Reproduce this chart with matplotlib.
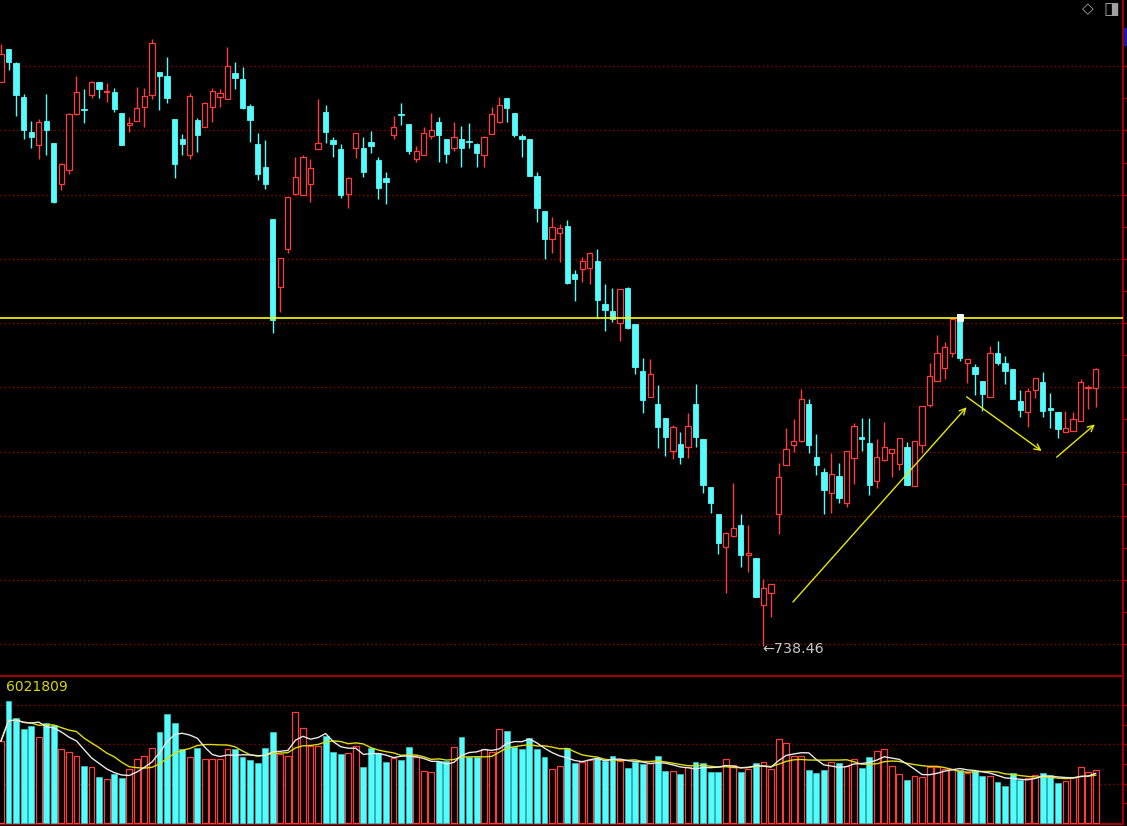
import numpy as np
import pandas as pd
import matplotlib
matplotlib.use("Agg")
import matplotlib.pyplot as plt
from matplotlib.patches import Rectangle
from matplotlib.lines import Line2D

# ---------------- data (index -1 .. 144, one entry per trading day) ----------------
day_index = list(range(-1, 145))

open_ = [879.58, 887.68, 884.33, 875.83, 867.0, 863.75, 869.83, 864.18, 854.08, 857.5,
         871.5, 872.75, 876.25, 879.5, 877.08, 877.08, 871.68, 868.75, 869.68, 873.33,
         876.25, 882.08, 881.08, 870.18, 865.18, 861.25, 869.93, 868.33, 873.18, 875.83,
         875.33, 881.68, 880.18, 873.58, 863.93, 858.33, 845.18, 828.18, 837.75, 851.58,
         851.25, 854.08, 862.83, 872.0, 865.08, 862.68, 851.5, 863.08, 862.93, 864.58,
         859.93, 855.43, 866.25, 871.5, 868.93, 860.25, 861.18, 866.0, 869.5, 865.18,
         863.0, 865.18, 864.83, 863.93, 861.25, 866.5, 869.58, 875.43, 871.75, 866.08,
         865.18, 856.08, 847.33, 840.33, 841.83, 843.58, 831.43, 832.75, 833.08, 834.83,
         823.93, 822.33, 819.33, 827.93, 818.93, 807.33, 800.68, 799.0, 795.43, 787.33,
         788.93, 788.33, 799.0, 790.18, 778.33, 771.43, 763.18, 766.0, 768.68, 761.25,
         760.43, 748.75, 751.83, 771.5, 783.75, 788.75, 789.83, 798.93, 785.75, 782.0,
         776.83, 781.08, 774.33, 785.43, 790.83, 789.18, 779.75, 785.0, 786.68, 784.0,
         788.25, 778.5, 788.75, 798.75, 804.75, 808.08, 811.68, 821.43, 809.18, 808.33,
         804.83, 800.83, 811.83, 809.18, 807.68, 799.83, 796.93, 802.5, 804.58, 797.93,
         797.08, 792.08, 792.25, 794.75, 802.93, 802.93]

high = [889.0, 887.68, 884.58, 876.43, 869.83, 870.18, 876.43, 864.18, 859.33, 871.83,
        881.08, 877.68, 879.83, 879.5, 879.18, 877.93, 871.68, 870.83, 878.33, 877.93,
        890.18, 882.08, 885.83, 870.18, 866.43, 876.68, 870.43, 874.58, 877.93, 877.68,
        888.33, 884.58, 883.33, 874.0, 866.83, 865.0, 845.18, 835.43, 850.75, 860.83,
        861.18, 860.18, 875.25, 873.68, 865.83, 863.93, 855.83, 866.68, 865.83, 867.33,
        860.83, 857.08, 871.08, 874.25, 868.93, 863.58, 868.33, 871.83, 870.83, 865.18,
        869.58, 868.58, 869.18, 864.18, 866.0, 873.33, 875.83, 875.43, 871.75, 866.43,
        865.18, 857.08, 847.33, 845.83, 843.93, 845.0, 832.5, 835.83, 837.08, 837.68,
        829.0, 827.93, 827.68, 828.33, 818.93, 810.43, 810.18, 803.75, 795.43, 793.75,
        792.08, 796.83, 804.0, 790.18, 778.33, 771.43, 766.93, 779.18, 771.43, 768.68,
        760.43, 755.18, 753.93, 784.18, 792.93, 795.18, 802.68, 800.18, 791.43, 782.93,
        786.68, 784.18, 787.33, 794.33, 795.5, 795.5, 790.18, 794.58, 787.83, 790.43,
        789.58, 789.83, 798.58, 809.33, 816.25, 814.58, 820.25, 821.43, 810.18, 808.93,
        804.83, 813.58, 814.83, 811.0, 807.68, 802.5, 802.93, 805.43, 807.08, 801.83,
        797.08, 797.25, 796.93, 805.25, 803.75, 807.93]

low = [879.5, 882.5, 871.08, 865.25, 863.08, 860.25, 861.25, 849.33, 852.5, 856.5,
       871.18, 869.33, 875.58, 875.58, 874.58, 872.08, 863.7, 867.08, 869.68, 868.33,
       875.25, 872.5, 874.33, 855.58, 861.25, 860.25, 862.08, 868.33, 869.58, 873.33,
       875.33, 877.75, 872.68, 864.58, 855.0, 852.68, 816.75, 822.08, 836.83, 851.25,
       851.25, 849.58, 862.83, 864.33, 860.83, 850.58, 848.08, 860.58, 855.83, 861.83,
       850.25, 848.93, 865.25, 868.68, 861.5, 859.58, 861.18, 865.18, 859.58, 859.33,
       862.33, 858.33, 862.93, 858.33, 858.33, 866.5, 869.33, 869.58, 865.83, 860.83,
       856.08, 844.58, 835.25, 836.83, 834.58, 829.0, 824.83, 829.58, 829.0, 820.43,
       817.33, 819.58, 814.83, 817.68, 806.43, 796.83, 800.68, 788.08, 786.08, 785.25,
       784.0, 785.58, 788.33, 776.83, 771.83, 761.5, 751.83, 765.83, 758.33, 757.08,
       750.83, 738.46, 745.68, 766.5, 783.75, 787.08, 789.58, 786.83, 781.25, 771.5,
       771.83, 774.18, 773.33, 779.0, 787.33, 776.25, 778.08, 784.75, 780.68, 782.38,
       778.75, 778.5, 786.83, 798.18, 804.75, 805.25, 810.83, 809.83, 804.33, 801.25,
       797.25, 800.83, 808.75, 804.0, 800.25, 795.83, 793.33, 800.58, 795.83, 793.08,
       790.58, 791.93, 792.25, 794.75, 797.75, 798.18]

close = [886.5, 884.58, 876.25, 867.5, 865.83, 869.5, 867.5, 849.58, 858.93, 871.43,
         877.0, 872.43, 879.5, 877.75, 877.33, 872.75, 863.75, 869.18, 872.93, 876.0,
         889.18, 881.0, 875.58, 859.0, 864.0, 876.08, 866.18, 874.18, 877.33, 876.68,
         883.58, 880.58, 872.93, 870.0, 856.5, 854.0, 820.0, 835.43, 850.75, 855.75,
         860.75, 857.93, 864.18, 867.08, 864.08, 851.18, 855.43, 866.68, 857.08, 863.43,
         853.08, 854.43, 868.18, 871.18, 862.33, 862.33, 866.68, 867.5, 866.25, 861.5,
         865.68, 863.08, 864.58, 861.83, 865.68, 871.43, 873.83, 873.08, 866.18, 865.25,
         856.08, 848.08, 840.25, 843.33, 843.0, 829.33, 830.25, 834.75, 836.68, 825.0,
         822.5, 820.33, 827.68, 818.08, 808.33, 800.0, 806.43, 793.33, 790.83, 793.25,
         785.83, 793.58, 790.83, 778.75, 774.33, 764.33, 766.68, 767.93, 761.25, 761.63,
         750.83, 752.93, 753.93, 780.75, 787.68, 789.83, 800.18, 788.75, 783.75, 777.5,
         781.43, 775.58, 787.33, 793.58, 790.33, 778.75, 785.68, 788.18, 787.83, 790.43,
         778.75, 789.83, 798.58, 806.08, 811.68, 813.33, 820.25, 810.43, 810.18, 806.5,
         801.5, 811.68, 809.33, 807.25, 800.25, 797.5, 802.33, 805.43, 797.25, 797.5,
         792.75, 792.93, 795.18, 804.43, 803.33, 807.68]

volume_m = [9.35, 13.94, 11.94, 10.68, 11.09, 9.84, 11.43, 11.14, 8.40, 8.13,
            7.67, 6.53, 6.38, 5.28, 4.98, 5.55, 5.16, 6.12, 7.26, 7.67,
            8.52, 10.41, 12.39, 11.43, 8.40, 7.52, 8.58, 7.26, 7.26, 7.26,
            8.40, 8.40, 7.56, 7.18, 6.84, 8.58, 10.41, 7.87, 7.64, 12.69,
            10.80, 8.78, 8.78, 9.95, 8.13, 7.83, 7.95, 8.78, 6.42, 8.55,
            7.95, 6.99, 7.38, 7.18, 8.70, 7.56, 5.96, 5.78, 7.10, 7.10,
            8.63, 9.84, 7.49, 7.49, 8.44, 8.13, 10.68, 10.52, 8.63, 8.40,
            9.66, 8.40, 7.56, 6.12, 6.53, 8.52, 6.87, 6.92, 7.18, 7.38,
            7.10, 7.67, 7.10, 6.30, 6.92, 6.73, 6.81, 7.67, 5.96, 5.96,
            5.55, 6.35, 6.99, 6.81, 5.85, 5.85, 7.26, 6.65, 5.85, 6.12,
            6.81, 6.95, 6.12, 9.54, 9.09, 7.64, 7.67, 6.04, 5.73, 6.04,
            6.99, 6.87, 6.50, 7.26, 6.30, 7.56, 8.24, 8.40, 6.50, 5.55,
            4.90, 5.39, 5.28, 6.42, 6.35, 6.12, 6.12, 6.04, 5.67, 5.96,
            5.39, 5.39, 4.71, 4.25, 5.67, 4.90, 5.10, 5.47, 5.67, 5.47,
            4.53, 4.79, 5.28, 6.35, 5.81, 6.02]

volume_label = "6021809"
resistance_level = 820.38          # yellow horizontal line
highlight_day = 126                # candle with the white marker on its top
marker_bottom = 819.75

# hand drawn yellow arrows: (start_day, start_price, end_day, end_price)
arrow_segments = [
    (103.9, 749.5, 126.9, 798.2),
    (126.9, 800.8, 136.85, 787.25),
    (138.83, 785.7, 143.9, 793.9),
]

price_grid = [739.0, 755.0, 771.1, 787.1, 803.2, 819.3, 835.3, 851.3, 867.4, 883.5]
volume_grid = [4.5, 8.95, 13.4]

# ---------------- styling ----------------
RED = "#ff3c3c"
CYAN = "#54fcfc"
GRID = "#8c0000"
FRAME = "#a00000"
YEL = "#ffff00"

W, H = 1127, 826
fig = plt.figure(figsize=(W / 100, H / 100), dpi=100, facecolor="black")
ax = fig.add_axes([0, (H - 676) / H, 1123 / W, 676 / H], facecolor="black")
axv = fig.add_axes([0, (H - 824) / H, 1123 / W, 148 / H], facecolor="none")

x = np.array(day_index, dtype=float)
o = np.array(open_); h = np.array(high); l = np.array(low); c = np.array(close)
v = np.array(volume_m)
up = c >= o
dn = ~up

xlim = (-1.126, 147.62)

# ---------------- price panel ----------------
ax.vlines(x[dn], l[dn], h[dn], color=CYAN, lw=1.0, zorder=2)
ax.vlines(x[up], l[up], h[up], color=RED, lw=1.0, zorder=2)
ax.bar(x[dn], o[dn] - c[dn], bottom=c[dn], width=0.7, color=CYAN,
       edgecolor=CYAN, lw=0.6, zorder=3)
ax.bar(x[up], c[up] - o[up], bottom=o[up], width=0.7, facecolor="black",
       edgecolor=RED, lw=0.9, zorder=3)

ax.axhline(resistance_level, color=YEL, lw=1.2, zorder=5)
hi = day_index.index(highlight_day)
ax.bar([highlight_day], [h[hi] - marker_bottom], bottom=marker_bottom, width=0.75,
       color="white", edgecolor="white", lw=0.6, zorder=6)

for sx, sy, ex, ey in arrow_segments:
    ax.annotate("", xy=(ex, ey), xytext=(sx, sy),
                arrowprops=dict(arrowstyle="->", color="#e8e800", lw=1.0,
                                mutation_scale=11, shrinkA=0, shrinkB=0),
                zorder=7)

imin = int(np.argmin(l))
ax.annotate(f"\u2190{l[imin]:.2f}", xy=(x[imin], l[imin]), xytext=(-1, -2),
            textcoords="offset points", ha="left", va="center",
            color="#c8c8c8", fontsize=10.3, zorder=8)

ax.set_xlim(*xlim)
ax.set_ylim(731, 900)
ax.set_yticks(price_grid)
ax.set_yticks([(a + b) / 2 for a, b in zip(price_grid[:-1], price_grid[1:])], minor=True)
ax.grid(axis="y", which="major", color=GRID, linestyle=(0, (1, 2)), lw=1.0, zorder=0)
ax.set_xticks([])
ax.tick_params(axis="y", which="both", left=False, right=True, labelleft=False,
               labelright=False, direction="out", length=3, width=1, colors=FRAME)
for s in ("left", "top", "bottom"):
    ax.spines[s].set_visible(False)
ax.spines["right"].set_color(FRAME)
ax.spines["right"].set_linewidth(1.5)

# ---------------- volume panel ----------------
axv.bar(x[dn], v[dn], width=0.78, color=CYAN, edgecolor="#3cc8c8", lw=0.5, zorder=3)
axv.bar(x[up], v[up], width=0.78, facecolor="black", edgecolor=RED, lw=0.9, zorder=3)
vs = pd.Series(v)
ma5 = vs.rolling(5, min_periods=1).mean()
ma10 = vs.rolling(10, min_periods=1).mean()
axv.plot(x, ma5, color="#e8e8e8", lw=1.0, zorder=5)
axv.plot(x, ma10, color="#dede00", lw=1.0, zorder=4)

axv.set_xlim(*xlim)
axv.set_ylim(-0.114, 16.758)
axv.set_yticks(volume_grid)
axv.set_yticks([2.25, 6.7, 11.15], minor=True)
axv.grid(axis="y", which="major", color=GRID, linestyle=(0, (1, 2)), lw=1.0, zorder=0)
axv.set_xticks([])
axv.tick_params(axis="y", which="both", left=False, right=True, labelleft=False,
                labelright=False, direction="out", length=3, width=1, colors=FRAME)
for s in ("left", "top"):
    axv.spines[s].set_visible(False)
for s in ("bottom", "right"):
    axv.spines[s].set_color(FRAME)
    axv.spines[s].set_linewidth(1.5)

# panel separator
fig.add_artist(Line2D([0, 1123 / W], [1 - 676 / H, 1 - 676 / H], color=FRAME, lw=1.5,
                      transform=fig.transFigure, zorder=10))

fig.text(6 / W, 1 - 687 / H, volume_label, color="#d8d800", fontsize=10,
         ha="left", va="center")

# ---------------- top-right widgets ----------------
fig.text(1088 / W, 1 - 9 / H, "\u25c7", color="#a0a0a0", fontsize=11,
         ha="center", va="center")
fig.text(1111 / W, 1 - 9 / H, "\u25e8", color="#a0a0a0", fontsize=12,
         ha="center", va="center")
fig.patches.append(Rectangle((1124 / W, 1 - 45 / H), 3 / W, 17 / H,
                             transform=fig.transFigure, color="#1a1aa0"))

fig.savefig("out.png", dpi=100, facecolor="black")
